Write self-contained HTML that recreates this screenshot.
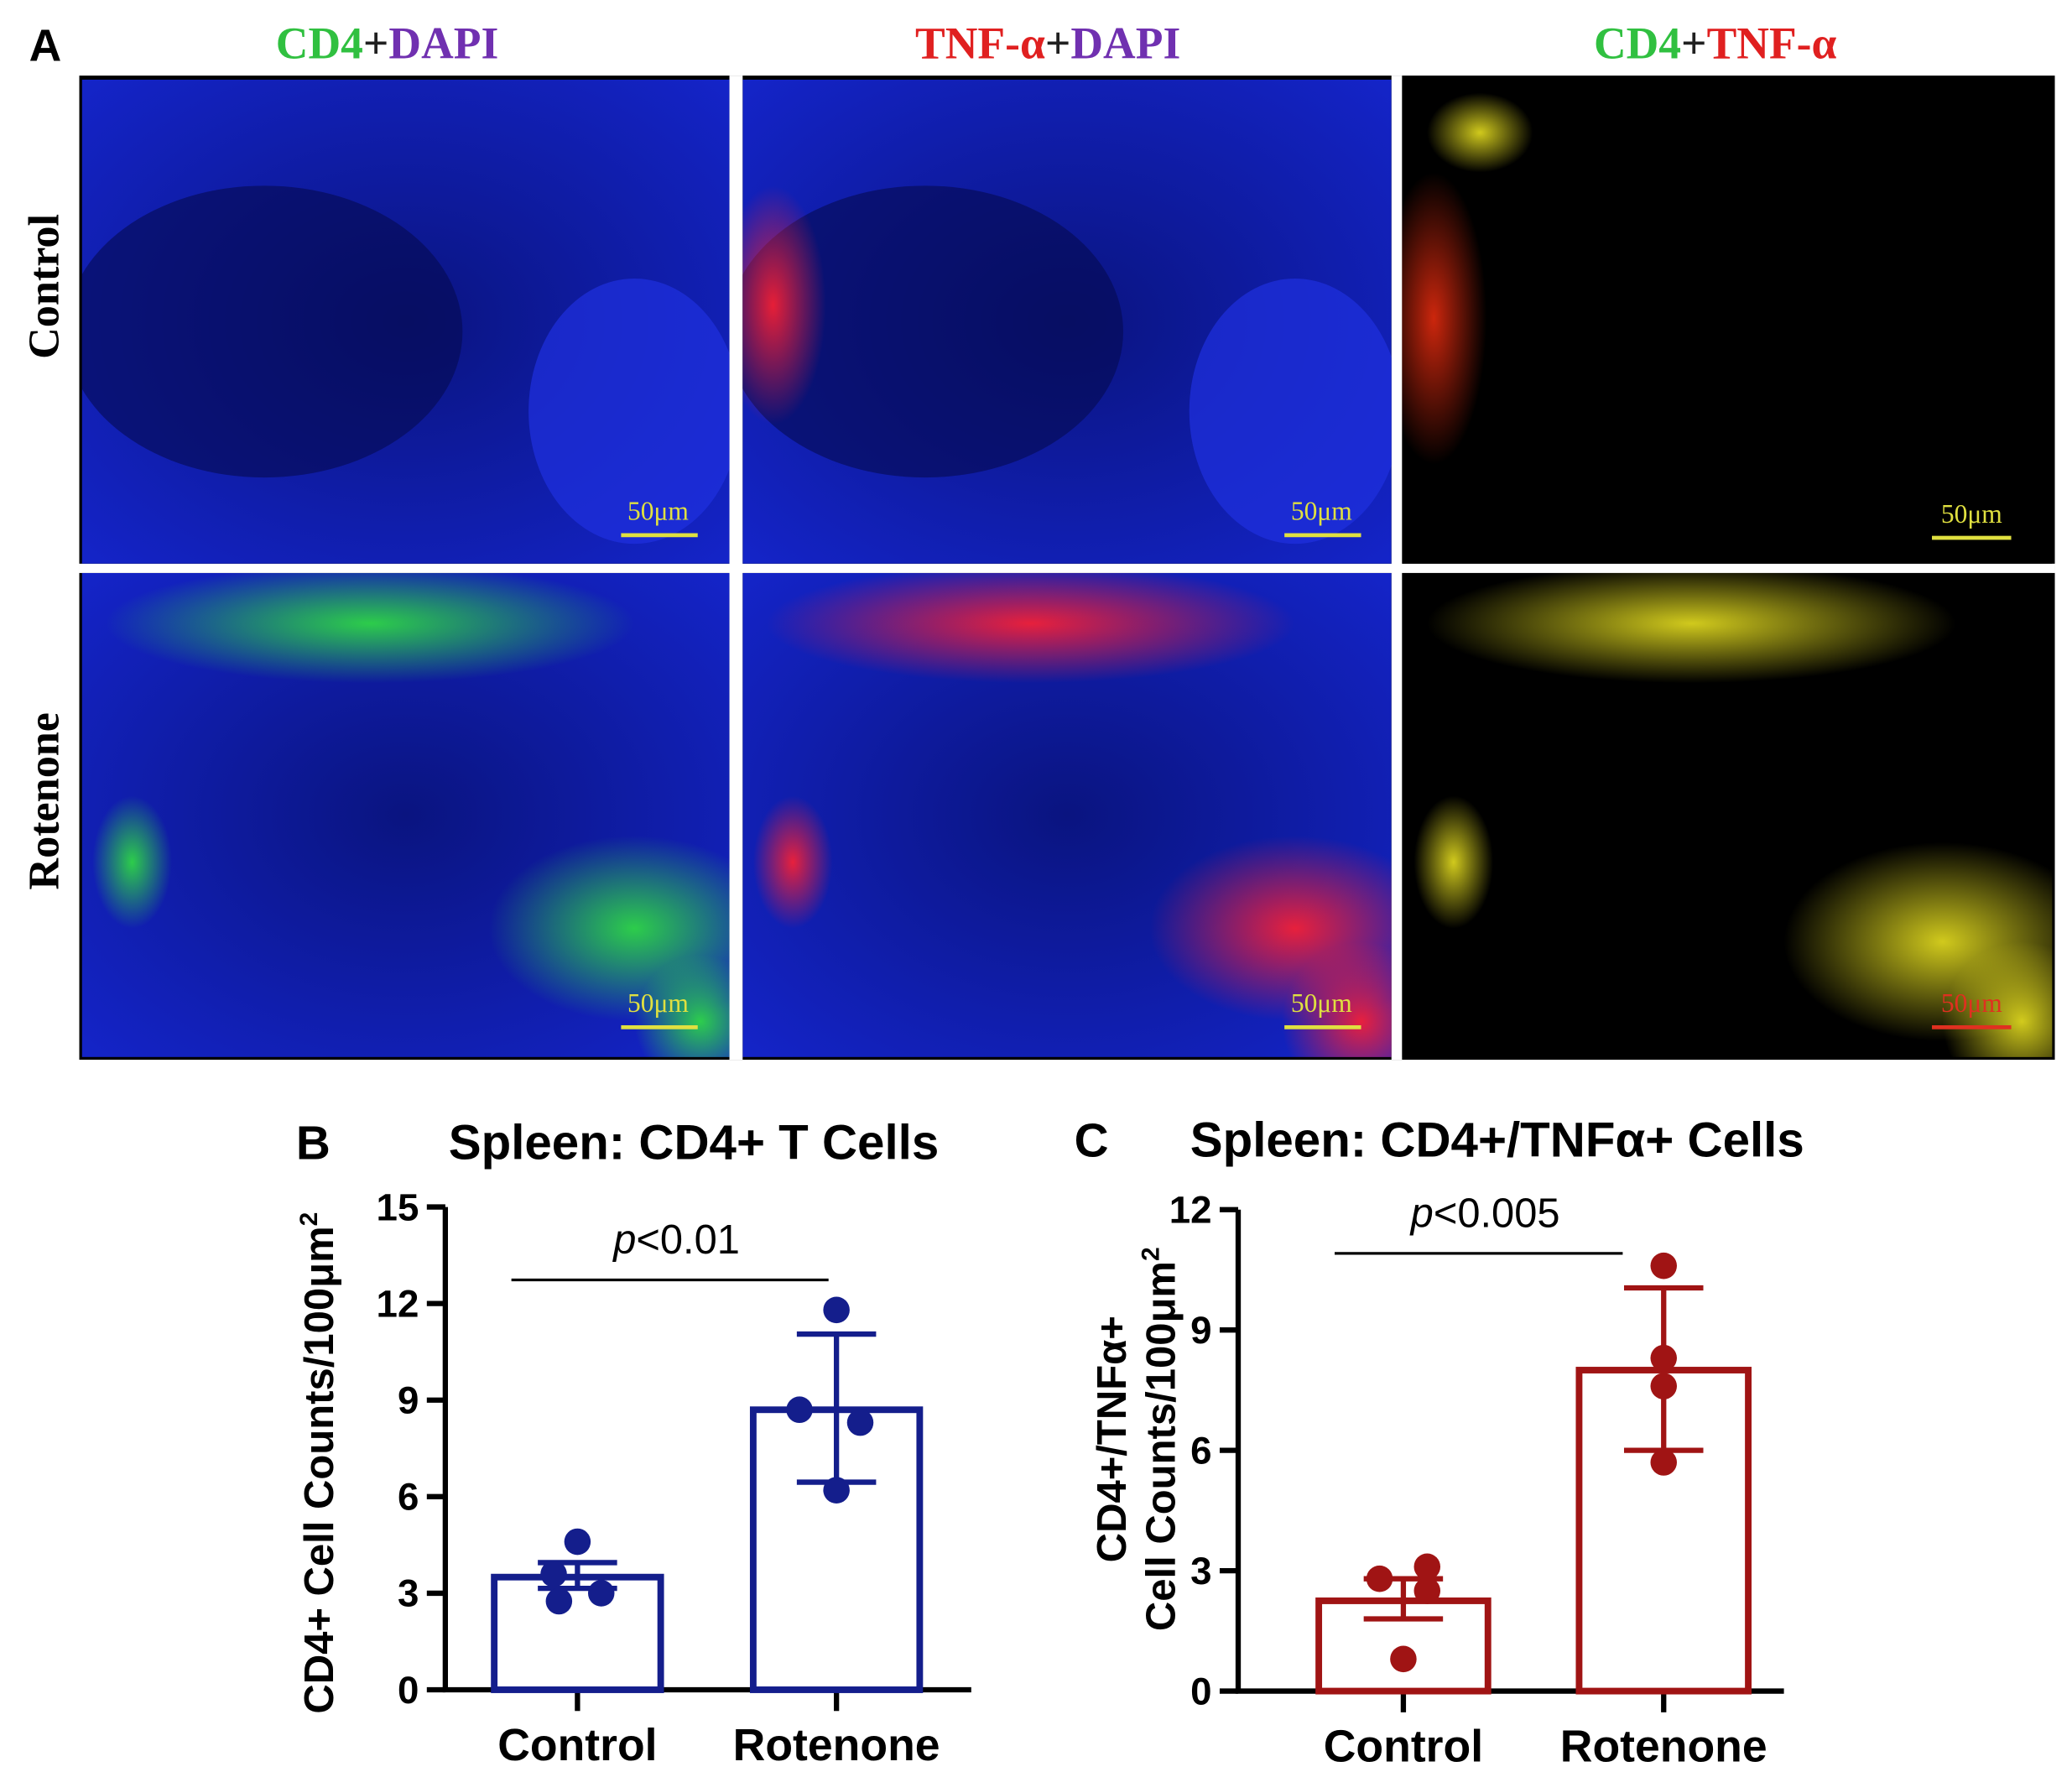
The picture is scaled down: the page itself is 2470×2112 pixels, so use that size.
<!DOCTYPE html>
<html><head><meta charset="utf-8"><style>
html,body{margin:0;padding:0;background:#fff}
svg{display:block}
</style></head><body>
<svg id="fig" width="2470" height="2112" viewBox="0 0 1568 1336" preserveAspectRatio="none" xmlns="http://www.w3.org/2000/svg">
<defs>
<radialGradient id="gBlue" cx="50%" cy="50%" r="70%"><stop offset="0" stop-color="#0a1480"/><stop offset="1" stop-color="#1424c8"/></radialGradient>
<radialGradient id="gGreen" cx="50%" cy="50%" r="50%"><stop offset="0" stop-color="#30e040" stop-opacity="0.9"/><stop offset="1" stop-color="#30e040" stop-opacity="0"/></radialGradient>
<radialGradient id="gRed" cx="50%" cy="50%" r="50%"><stop offset="0" stop-color="#ff2030" stop-opacity="0.9"/><stop offset="1" stop-color="#ff2030" stop-opacity="0"/></radialGradient>
<radialGradient id="gYel" cx="50%" cy="50%" r="50%"><stop offset="0" stop-color="#e8e020" stop-opacity="0.9"/><stop offset="1" stop-color="#e8e020" stop-opacity="0"/></radialGradient>
<radialGradient id="gOr" cx="50%" cy="50%" r="50%"><stop offset="0" stop-color="#ff3010" stop-opacity="0.8"/><stop offset="1" stop-color="#ff3010" stop-opacity="0"/></radialGradient>
<clipPath id="c11"><rect x="62" y="60" width="490" height="365"/></clipPath>
<clipPath id="c12"><rect x="562" y="60" width="491" height="365"/></clipPath>
<clipPath id="c13"><rect x="1061" y="60" width="492" height="365"/></clipPath>
<clipPath id="c21"><rect x="62" y="432" width="490" height="365"/></clipPath>
<clipPath id="c22"><rect x="562" y="432" width="491" height="365"/></clipPath>
<clipPath id="c23"><rect x="1061" y="432" width="492" height="365"/></clipPath>
</defs>
<g>
<text x="22" y="46" font-family="Liberation Sans, sans-serif" font-weight="bold" font-size="34">A</text>
<text x="293" y="44" text-anchor="middle" font-family="Liberation Serif, serif" font-weight="bold" font-size="34"><tspan fill="#30c040">CD4</tspan><tspan fill="#202020">+</tspan><tspan fill="#7030b0">DAPI</tspan></text>
<text x="793" y="44" text-anchor="middle" font-family="Liberation Serif, serif" font-weight="bold" font-size="34"><tspan fill="#e02020">TNF-α</tspan><tspan fill="#202020">+</tspan><tspan fill="#7030b0">DAPI</tspan></text>
<text x="1298" y="44" text-anchor="middle" font-family="Liberation Serif, serif" font-weight="bold" font-size="34"><tspan fill="#30c040">CD4</tspan><tspan fill="#202020">+</tspan><tspan fill="#e02020">TNF-α</tspan></text>
<text transform="translate(44,216) rotate(-90)" text-anchor="middle" font-family="Liberation Serif, serif" font-weight="bold" font-size="33">Control</text>
<text transform="translate(44,604) rotate(-90)" text-anchor="middle" font-family="Liberation Serif, serif" font-weight="bold" font-size="33">Rotenone</text>
<rect x="60" y="57" width="1495" height="742" fill="#000"/>
<rect x="552" y="57" width="10" height="742" fill="#fff"/>
<rect x="1053" y="57" width="8" height="742" fill="#fff"/>
<rect x="60" y="425" width="1495" height="7" fill="#fff"/>
<g clip-path="url(#c11)">
<rect x="62" y="60" width="490" height="365" fill="url(#gBlue)"/>
<ellipse cx="200" cy="250" rx="150" ry="110" fill="#050a50" opacity="0.6"/>
<ellipse cx="480" cy="310" rx="80" ry="100" fill="#2030e0" opacity="0.7"/>
</g>
<g clip-path="url(#c12)">
<rect x="562" y="60" width="491" height="365" fill="url(#gBlue)"/>
<ellipse cx="700" cy="250" rx="150" ry="110" fill="#050a50" opacity="0.6"/>
<ellipse cx="585" cy="230" rx="40" ry="90" fill="url(#gRed)"/>
<ellipse cx="980" cy="310" rx="80" ry="100" fill="#2030e0" opacity="0.7"/>
</g>
<g clip-path="url(#c13)">
<rect x="1061" y="60" width="492" height="365" fill="#000"/>
<ellipse cx="1085" cy="240" rx="40" ry="110" fill="url(#gOr)"/>
<ellipse cx="1120" cy="100" rx="40" ry="30" fill="url(#gYel)"/>
</g>
<g clip-path="url(#c21)">
<rect x="62" y="432" width="490" height="365" fill="url(#gBlue)"/>
<ellipse cx="280" cy="470" rx="200" ry="45" fill="url(#gGreen)"/>
<ellipse cx="100" cy="650" rx="30" ry="50" fill="url(#gGreen)"/>
<ellipse cx="480" cy="700" rx="110" ry="70" fill="url(#gGreen)"/>
<ellipse cx="530" cy="770" rx="50" ry="50" fill="url(#gGreen)"/>
</g>
<g clip-path="url(#c22)">
<rect x="562" y="432" width="491" height="365" fill="url(#gBlue)"/>
<ellipse cx="780" cy="470" rx="200" ry="45" fill="url(#gRed)"/>
<ellipse cx="600" cy="650" rx="30" ry="50" fill="url(#gRed)"/>
<ellipse cx="980" cy="700" rx="110" ry="70" fill="url(#gRed)"/>
<ellipse cx="1030" cy="770" rx="60" ry="60" fill="url(#gRed)"/>
</g>
<g clip-path="url(#c23)">
<rect x="1061" y="432" width="492" height="365" fill="#000"/>
<ellipse cx="1280" cy="470" rx="200" ry="45" fill="url(#gYel)"/>
<ellipse cx="1100" cy="650" rx="30" ry="50" fill="url(#gYel)"/>
<ellipse cx="1470" cy="710" rx="120" ry="75" fill="url(#gYel)"/>
<ellipse cx="1530" cy="770" rx="60" ry="60" fill="url(#gYel)"/>
</g>
<g font-family="Liberation Serif, serif" font-size="20" fill="#e0e040">
<text x="498" y="392" text-anchor="middle">50μm</text><rect x="470" y="402" width="58" height="3"/>
<text x="1000" y="392" text-anchor="middle">50μm</text><rect x="972" y="402" width="58" height="3"/>
<text x="1492" y="394" text-anchor="middle">50μm</text><rect x="1462" y="404" width="60" height="3"/>
<text x="498" y="763" text-anchor="middle">50μm</text><rect x="470" y="773" width="58" height="3"/>
<text x="1000" y="763" text-anchor="middle">50μm</text><rect x="972" y="773" width="58" height="3"/>
<text x="1492" y="763" text-anchor="middle" fill="#e03020">50μm</text><rect x="1462" y="773" width="60" height="3" fill="#e03020"/>
</g>
</g>
<g id="chartB"></g>
<g id="chartC"></g>
</svg>
<script>
const categories = ["Control", "Rotenone"];
const bMeans = [3.5, 8.7];
const bErrLow = [3.15, 6.45];
const bErrHigh = [3.95, 11.05];
const bPoints = [[4.6, 3.6, 2.75, 3.0], [11.8, 8.7, 8.3, 6.2]];
const bTicks = [0, 3, 6, 9, 12, 15];
const cMeans = [2.25, 8.0];
const cErrLow = [1.8, 6.0];
const cErrHigh = [2.8, 10.05];
const cPoints = [[2.8, 3.1, 2.5, 0.8], [10.6, 8.3, 7.6, 5.7]];
const cTicks = [0, 3, 6, 9, 12];

const NS = "http://www.w3.org/2000/svg";
function mk(parent, tag, attrs, text) {
  const e = document.createElementNS(NS, tag);
  for (const k in attrs) e.setAttribute(k, attrs[k]);
  if (text !== undefined) e.textContent = text;
  parent.appendChild(e);
  return e;
}
function drawChart(g, cfg, means, lo, hi, pts, ticks) {
  const yScale = v => cfg.y0 - (v / cfg.ymax) * (cfg.y0 - cfg.yTop);
  const xScale = i => cfg.cx[i];
  const F = "Liberation Sans, Arial, sans-serif";
  const lbl = mk(g, "text", {x: cfg.letterX, y: cfg.titleY, "font-family": F, "font-weight": "bold", "font-size": 36}, cfg.letter);
  
  
  const t = mk(g, "text", {x: cfg.titleX, y: cfg.titleY, "text-anchor": "middle", "font-family": F, "font-weight": "bold", "font-size": 37}, cfg.title);
  
  
  const ax = mk(g, "path", {d: `M${cfg.axX},${yScale(ticks[ticks.length-1])} L${cfg.axX},${cfg.y0} L${cfg.axEnd},${cfg.y0}`, stroke: "#000", "stroke-width": 4, fill: "none"});
  
  
  ticks.forEach(v => {
    const y = yScale(v);
    const tk = mk(g, "line", {x1: cfg.axX - 14, x2: cfg.axX, y1: y, y2: y, stroke: "#000", "stroke-width": 4});
    
    
    const tl = mk(g, "text", {x: cfg.axX - 20, y: y + 10, "text-anchor": "end", "font-family": F, "font-weight": "bold", "font-size": 29}, String(v));
    
    
  });
  const yt = mk(g, "text", {transform: `translate(${cfg.ytX},${cfg.ytY}) rotate(-90)`, "text-anchor": "middle", "font-family": F, "font-weight": "bold", "font-size": 31});
  
  
  cfg.ytLines.forEach((ln, i) => {
    mk(yt, "tspan", {x: 0, dy: i === 0 ? 0 : 37}, ln);
    if (cfg.sup && i === cfg.ytLines.length - 1) mk(yt, "tspan", {dy: -12, "font-size": 19}, "2");
  });
  categories.forEach((c, i) => {
    const x = xScale(i);
    const tk = mk(g, "line", {x1: x, x2: x, y1: cfg.y0, y2: cfg.y0 + 16, stroke: "#000", "stroke-width": 4});
    
    
    const cl = mk(g, "text", {x: x, y: cfg.y0 + 53, "text-anchor": "middle", "font-family": F, "font-weight": "bold", "font-size": 34}, c);
    
    
    const bw = cfg.bw;
    const bar = mk(g, "rect", {x: x - bw/2, y: yScale(means[i]), width: bw, height: cfg.y0 - yScale(means[i]), fill: "#fff", stroke: cfg.color, "stroke-width": 5});
    
    
    const eb = mk(g, "path", {d: `M${x},${yScale(lo[i])} L${x},${yScale(hi[i])} M${x-30},${yScale(lo[i])} L${x+30},${yScale(lo[i])} M${x-30},${yScale(hi[i])} L${x+30},${yScale(hi[i])}`, stroke: cfg.color, "stroke-width": 4, fill: "none"});
    
    
    pts[i].forEach((v, j) => {
      const p = mk(g, "circle", {cx: x + cfg.dotOff[i][j], cy: yScale(v), r: 10, fill: cfg.color});
      
      
    });
  });
  const sl = mk(g, "line", {x1: cfg.sigX1, x2: cfg.sigX2, y1: cfg.sigY, y2: cfg.sigY, stroke: "#000", "stroke-width": 2});
  
  
  const pt = mk(g, "text", {x: (cfg.sigX1 + cfg.sigX2)/2 + 5, y: cfg.sigY - 20, "text-anchor": "middle", "font-family": F, "font-size": 31});
  
  
  mk(pt, "tspan", {"font-style": "italic"}, "p");
  mk(pt, "tspan", {}, cfg.pText);
}
drawChart(document.getElementById("chartB"), {
  letter: "B", letterX: 224, title: "Spleen: CD4+ T Cells", titleX: 525, titleY: 874,
  axX: 337, axEnd: 735, y0: 1274, yTop: 910, ymax: 15, cx: [437, 633], bw: 126, color: "#141e8c",
  ytX: 252, ytY: 1103, ytLines: ["CD4+ Cell Counts/100μm"], sup: true,
  sigX1: 387, sigX2: 627, sigY: 965, pText: "<0.01",
  dotOff: [[0, -18, -14, 18], [0, -28, 18, 0]]
}, bMeans, bErrLow, bErrHigh, bPoints, bTicks);
drawChart(document.getElementById("chartC"), {
  letter: "C", letterX: 813, title: "Spleen: CD4+/TNFα+ Cells", titleX: 1133, titleY: 872,
  axX: 937, axEnd: 1350, y0: 1275, yTop: 912, ymax: 12, cx: [1062, 1259], bw: 128, color: "#a01414",
  ytX: 852, ytY: 1085, ytLines: ["CD4+/TNFα+", "Cell Counts/100μm"], sup: true,
  sigX1: 1010, sigX2: 1228, sigY: 945, pText: "<0.005",
  dotOff: [[-18, 18, 18, 0], [0, 0, 0, 0]]
}, cMeans, cErrLow, cErrHigh, cPoints, cTicks);
</script>
</body></html>
